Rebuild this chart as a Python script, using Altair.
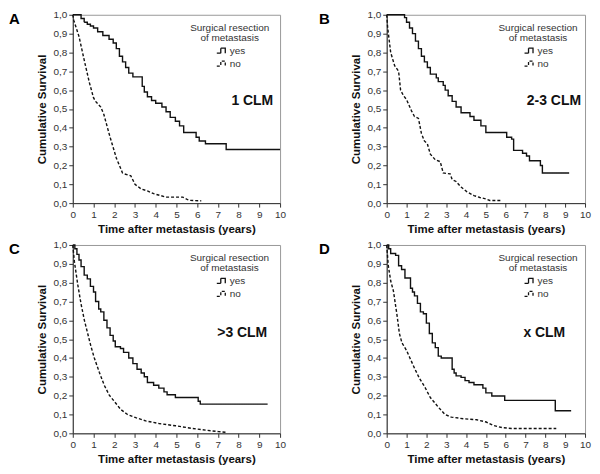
import altair as alt
import pandas as pd

# ---------------- data ----------------
A_yes_t = [0, 0.4, 0.55, 0.7, 0.85, 1.0, 1.2, 1.45, 1.75, 1.95, 2.1, 2.25, 2.4, 2.55, 2.7, 2.9, 3.35, 3.45, 3.6, 3.8, 4.0, 4.3, 4.5, 4.7, 4.95, 5.15, 5.35, 5.95, 6.1, 6.4, 7.4, 10]
A_yes_s = [1.0, 0.98, 0.96, 0.95, 0.94, 0.93, 0.91, 0.89, 0.87, 0.85, 0.82, 0.78, 0.75, 0.72, 0.69, 0.67, 0.62, 0.59, 0.565, 0.545, 0.53, 0.51, 0.485, 0.455, 0.435, 0.41, 0.375, 0.35, 0.33, 0.315, 0.285, 0.285]
A_no_t = [0, 0.05, 0.3, 0.55, 0.8, 1.0, 1.1, 1.35, 1.5, 1.8, 2.1, 2.4, 2.5, 2.8, 3.0, 3.3, 3.6, 3.9, 4.5, 5.3, 5.6, 6.2]
A_no_s = [1.0, 0.97, 0.885, 0.76, 0.64, 0.56, 0.54, 0.51, 0.47, 0.35, 0.24, 0.16, 0.155, 0.145, 0.1, 0.075, 0.065, 0.05, 0.032, 0.032, 0.015, 0.012]

B_yes_t = [0, 0.9, 1.0, 1.15, 1.3, 1.45, 1.6, 1.75, 1.9, 2.05, 2.2, 2.5, 2.6, 2.85, 2.95, 3.1, 3.3, 3.5, 3.75, 4.2, 4.4, 4.75, 5.0, 6.05, 6.3, 6.4, 6.85, 7.05, 7.2, 7.75, 7.85, 9.2]
B_yes_s = [1.0, 0.985, 0.96, 0.93, 0.9, 0.86, 0.82, 0.78, 0.75, 0.72, 0.685, 0.665, 0.645, 0.625, 0.6, 0.57, 0.54, 0.51, 0.48, 0.46, 0.44, 0.41, 0.375, 0.35, 0.34, 0.28, 0.265, 0.25, 0.225, 0.2, 0.16, 0.16]
B_no_t = [0, 0.05, 0.2, 0.4, 0.6, 0.7, 0.85, 1.0, 1.25, 1.4, 1.6, 1.75, 1.9, 2.05, 2.2, 2.45, 2.7, 2.85, 3.2, 3.3, 3.5, 3.75, 4.05, 4.4, 4.7, 5.0, 5.2, 5.8]
B_no_s = [1.0, 0.93, 0.8, 0.73, 0.7, 0.6, 0.57, 0.55, 0.49, 0.46, 0.45, 0.37, 0.33, 0.315, 0.26, 0.23, 0.22, 0.16, 0.155, 0.125, 0.115, 0.085, 0.06, 0.04, 0.03, 0.022, 0.014, 0.014]

C_yes_t = [0, 0.1, 0.2, 0.3, 0.4, 0.55, 0.7, 0.85, 1.0, 1.1, 1.25, 1.35, 1.5, 1.65, 1.8, 1.95, 2.05, 2.3, 2.45, 2.7, 2.9, 3.1, 3.3, 3.45, 3.6, 3.9, 4.15, 4.4, 4.55, 4.95, 6.05, 6.15, 9.4]
C_yes_s = [1.0, 0.98, 0.95, 0.92, 0.885, 0.84, 0.82, 0.78, 0.75, 0.70, 0.66, 0.645, 0.6, 0.56, 0.52, 0.49, 0.46, 0.45, 0.43, 0.40, 0.37, 0.34, 0.32, 0.30, 0.27, 0.255, 0.24, 0.22, 0.205, 0.19, 0.17, 0.155, 0.155]
C_no_t = [0, 0.08, 0.24, 0.4, 0.56, 0.72, 0.88, 1.04, 1.28, 1.52, 1.76, 2.0, 2.32, 2.64, 3.04, 3.52, 4.16, 4.96, 5.76, 6.4, 7.04, 7.45]
C_no_s = [1.0, 0.91, 0.79, 0.686, 0.6, 0.53, 0.46, 0.40, 0.324, 0.255, 0.203, 0.17, 0.126, 0.10, 0.083, 0.066, 0.052, 0.04, 0.026, 0.017, 0.009, 0.005]

D_yes_t = [0, 0.1, 0.2, 0.45, 0.6, 0.75, 0.92, 1.2, 1.3, 1.4, 1.55, 1.7, 1.85, 2.0, 2.15, 2.3, 2.45, 2.6, 2.75, 3.3, 3.4, 3.5, 3.75, 3.95, 4.15, 4.4, 4.85, 5.0, 5.3, 5.95, 8.5, 9.3]
D_yes_s = [1.0, 0.98, 0.955, 0.945, 0.89, 0.87, 0.825, 0.77, 0.75, 0.73, 0.69, 0.645, 0.635, 0.585, 0.53, 0.48, 0.455, 0.41, 0.40, 0.34, 0.32, 0.305, 0.297, 0.28, 0.27, 0.258, 0.24, 0.215, 0.198, 0.175, 0.12, 0.12]
D_no_t = [0, 0.08, 0.2, 0.34, 0.53, 0.64, 0.77, 1.0, 1.17, 1.41, 1.65, 1.9, 2.2, 2.62, 2.94, 3.26, 3.9, 4.54, 5.02, 5.35, 5.83, 6.3, 8.55]
D_no_s = [1.0, 0.89, 0.81, 0.755, 0.62, 0.53, 0.48, 0.44, 0.40, 0.344, 0.292, 0.25, 0.19, 0.137, 0.10, 0.086, 0.077, 0.072, 0.06, 0.043, 0.03, 0.026, 0.026]

GROUPS = ["yes", "no"]
LEGEND_TITLE = ["Surgical resection", "of metastasis"]
PANEL_LETTERS = ["A", "B", "C", "D"]
PANEL_LABELS = ["1 CLM", "2-3 CLM", ">3 CLM", "x CLM"]
LABEL_POS = [(9.67, 0.54), (9.8, 0.54), (9.38, 0.535), (9.0, 0.53)]
LEGEND_TITLE_X = [7.57, 7.63, 7.56, 7.63]
LEGEND_TITLE_Y = [0.932, 0.877]
X_TICKS = list(range(11))
Y_TICKS = [round(i * 0.1, 1) for i in range(11)]
X_TITLE = "Time after metastasis (years)"
Y_TITLE = "Cumulative Survival"

FONT = "Liberation Sans"
H = 189


def panel(i, yes_t, yes_s, no_t, no_s, width, letter_dx):
    df = pd.DataFrame({
        "t": yes_t + no_t,
        "s": yes_s + no_s,
        "grp": [GROUPS[0]] * len(yes_t) + [GROUPS[1]] * len(no_t),
    })
    xenc = alt.X("t:Q", scale=alt.Scale(domain=[0, 10], nice=False, zero=False),
                 axis=alt.Axis(values=X_TICKS, title=X_TITLE, grid=False, labelFlush=False,
                               labelOverlap=False, tickSize=4, labelPadding=2, titlePadding=4,
                               labelExpr="format(datum.value, 'd')"))
    yenc = alt.Y("s:Q", scale=alt.Scale(domain=[0, 1], nice=False, zero=False),
                 axis=alt.Axis(values=Y_TICKS, title=Y_TITLE, grid=False, tickSize=4,
                               labelPadding=2, titlePadding=5,
                               labelExpr="replace(format(datum.value, '.1f'), '.', ',')"))
    dash = alt.StrokeDash(
        "grp:N",
        scale=alt.Scale(domain=GROUPS, range=[[1, 0], [3, 2]]),
        legend=alt.Legend(orient="none", legendX=width * 0.69, legendY=30, title=None,
                          symbolType="M-1,0.5H-0.2V-0.5H0.7V0.5",
                          symbolSize=100, symbolStrokeWidth=1.3, symbolStrokeColor="#111",
                          symbolFillColor="transparent", labelFontSize=10, labelColor="#333",
                          labelFont=FONT, labelOffset=2, rowPadding=1),
    )
    base = alt.Chart(df)
    yes_line = base.transform_filter(alt.datum.grp == "yes").mark_line(
        interpolate="step-after", color="#111", strokeWidth=1.4).encode(xenc, yenc, dash)
    no_line = base.transform_filter(alt.datum.grp == "no").mark_line(
        interpolate="linear", color="#111", strokeWidth=1.4).encode(xenc, yenc, dash)

    lab = pd.DataFrame({"t": [LABEL_POS[i][0]], "s": [LABEL_POS[i][1]], "label": [PANEL_LABELS[i]]})
    clm = alt.Chart(lab).mark_text(align="right", baseline="middle", fontSize=14,
                                   fontWeight="bold", font=FONT, color="#111").encode(
        xenc, yenc, text="label:N")

    lt = pd.DataFrame({"t": [LEGEND_TITLE_X[i]] * 2, "s": LEGEND_TITLE_Y, "label": LEGEND_TITLE})
    ltitle = alt.Chart(lt).mark_text(align="center", baseline="middle", fontSize=10,
                                     font=FONT, color="#333").encode(xenc, yenc, text="label:N")

    letter = alt.Chart(pd.DataFrame({"label": [PANEL_LETTERS[i]]})).mark_text(
        align="left", baseline="middle", fontSize=15, fontWeight="bold", font=FONT,
        color="#000").encode(x=alt.value(letter_dx), y=alt.value(4), text="label:N")

    return alt.layer(yes_line, no_line, clm, ltitle, letter).properties(width=width, height=H)


pA = panel(0, A_yes_t, A_yes_s, A_no_t, A_no_s, 208, -64)
pB = panel(1, B_yes_t, B_yes_s, B_no_t, B_no_s, 199, -68)
pC = panel(2, C_yes_t, C_yes_s, C_no_t, C_no_s, 208, -64)
pD = panel(3, D_yes_t, D_yes_s, D_no_t, D_no_s, 199, -68)

row1 = alt.hconcat(pA, pB, spacing=31).resolve_scale(strokeDash="independent").resolve_legend(strokeDash="independent")
row2 = alt.hconcat(pC, pD, spacing=31).resolve_scale(strokeDash="independent").resolve_legend(strokeDash="independent")

chart = alt.vconcat(row1, row2, spacing=4).resolve_scale(
    strokeDash="independent").resolve_legend(strokeDash="independent").properties(
    padding=0
).configure(
    font=FONT, background="white"
).configure_view(stroke="#999", strokeWidth=1).configure_axis(
    labelFont=FONT, labelFontSize=10, labelColor="#333", titleFont=FONT, titleFontSize=11.5,
    titleFontWeight="bold", titleColor="#111", domainColor="#333", tickColor="#333",
    domainWidth=1, tickWidth=1
)

chart.save("out.html", embed_options={"renderer": "svg", "actions": False})
